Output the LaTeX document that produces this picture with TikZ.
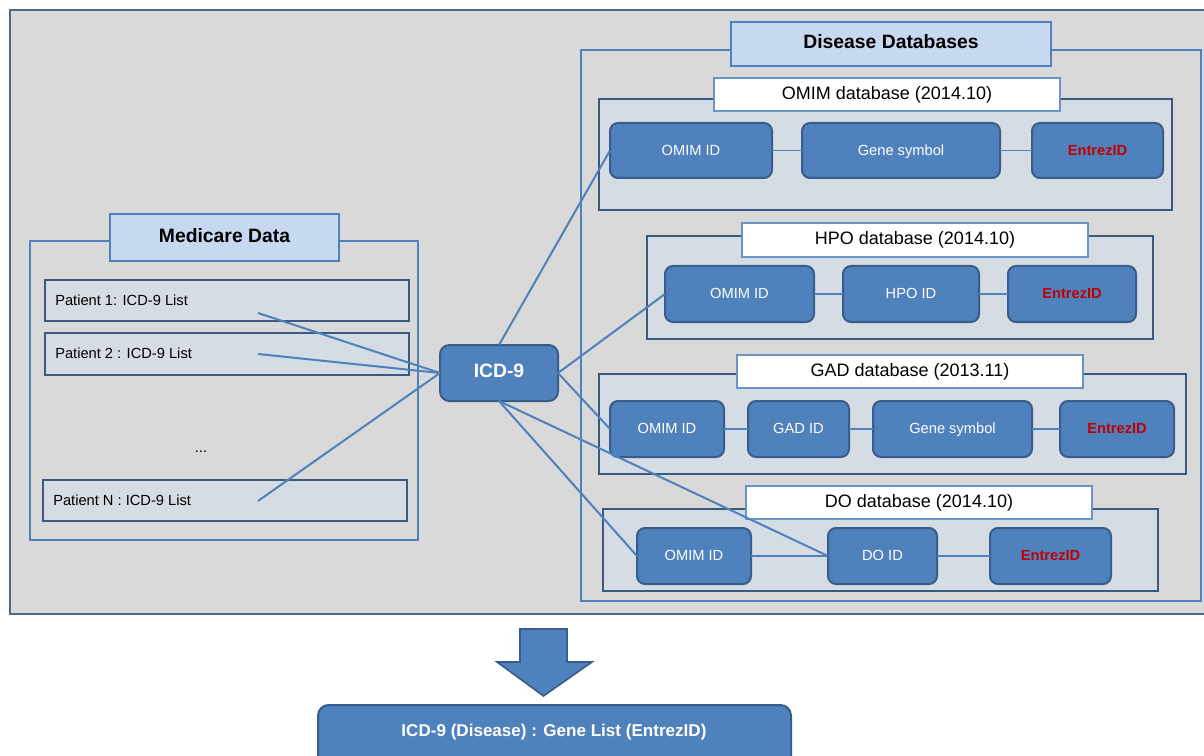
\documentclass[tikz,border=0pt]{standalone}
\usepackage{fontspec}
\setmainfont{Liberation Sans}
\definecolor{bggray}{HTML}{D9D9D9}
\definecolor{framecol}{HTML}{4A6A8E}
\definecolor{lblue}{HTML}{4F81BD}
\definecolor{dblue}{HTML}{385D8A}
\definecolor{paleblue}{HTML}{C6D9F1}
\definecolor{dbfill}{HTML}{D5DCE4}
\definecolor{dbline}{HTML}{3B5A80}
\definecolor{ered}{HTML}{C00000}
% box from corner (x1,y1) to (x2,y2) in pixel units
\newcommand\pxbox[7]{%
  \pgfmathsetmacro\bxcx{(#3+#5)/2}%
  \pgfmathsetmacro\bxcy{(#4+#6)/2}%
  \pgfmathsetmacro\bxw{(#5-#3)*0.75}%
  \pgfmathsetmacro\bxh{(#6-#4)*0.75}%
  \node[#1, minimum width=\bxw pt, minimum height=\bxh pt] (#2) at (\bxcx,\bxcy) {#7};}
\begin{document}
\begin{tikzpicture}[x=0.75pt,y=-0.75pt,
  box/.style={inner sep=0pt, outer sep=0pt, text height=0.72em, text depth=0pt},
  outerbox/.style={box, draw=framecol, fill=bggray, line width=1.8pt},
  container/.style={box, draw=lblue, line width=1.5pt},
  titlebox/.style={box, draw=lblue, fill=paleblue, line width=1.5pt, font=\fontsize{14.5}{17}\selectfont\bfseries},
  dbbox/.style={box, draw=dbline, fill=dbfill, line width=1.6pt},
  dbtitle/.style={box, draw=lblue!85, fill=white, line width=1.5pt, font=\fontsize{13.5}{16}\selectfont},
  patient/.style={box, draw=dbline, fill=dbfill, line width=1.8pt},
  ptext/.style={inner sep=0pt, anchor=west, text height=0.72em, text depth=0pt, font=\fontsize{11}{13}\selectfont},
  idbox/.style={box, draw=dblue, fill=lblue, line width=1.5pt, rounded corners=6pt, text=white, font=\fontsize{11}{13}\selectfont},
  entrez/.style={idbox, text=ered, font=\fontsize{11}{13}\selectfont\bfseries},
  icdbox/.style={box, draw=dblue, fill=lblue, line width=1.5pt, rounded corners=7pt, text=white, font=\fontsize{14.5}{17}\selectfont\bfseries},
  link/.style={draw=lblue, line width=1.5pt},
  rowlink/.style={draw=lblue, line width=0.8pt},
  blockarrow/.style={fill=lblue, draw=dblue, line width=1.2pt, line join=miter},
]
\useasboundingbox (0,0) rectangle (1204,756);
\fill[white] (0,0) rectangle (1204,756);
\clip (0,0) rectangle (1204,756);

% outer frame
\pxbox{outerbox}{frame}{10}{10}{1215}{614}{}

% Medicare data
\pxbox{container}{medi}{30}{241}{418}{540}{}
\pxbox{titlebox}{meditit}{110}{214}{339}{261}{Medicare Data}
\pxbox{patient}{p1}{45}{280}{409}{321}{}
\pxbox{patient}{p2}{45}{333}{409}{375}{}
\pxbox{patient}{pN}{43}{480}{407}{521}{}
\node[ptext] (p1t) at (55,301) {Patient 1: ICD-9 List};
\node[ptext] (p2t) at (55,354) {Patient 2 : ICD-9 List};
\node[ptext] (pNt) at (53,501) {Patient N : ICD-9 List};
\node[inner sep=0pt, font=\fontsize{11}{13}\selectfont] (dots) at (201,452) {...};
\coordinate (c1) at (258,313);
\coordinate (c2) at (258,354);
\coordinate (cN) at (258,501);

% Disease databases
\pxbox{container}{dis}{581}{50}{1201}{601}{}
\pxbox{titlebox}{distit}{731}{22}{1051}{66}{Disease Databases}

% OMIM
\pxbox{dbbox}{omimdb}{599}{99}{1172}{210}{}
\pxbox{dbtitle}{omimtit}{714}{78}{1060}{111}{OMIM database (2014.10)}
\pxbox{idbox}{o1}{610}{123}{772}{178}{OMIM ID}
\pxbox{idbox}{o2}{802}{123}{1000}{178}{Gene symbol}
\pxbox{entrez}{o3}{1032}{123}{1163}{178}{EntrezID}

% HPO
\pxbox{dbbox}{hpodb}{647}{236}{1153}{339}{}
\pxbox{dbtitle}{hpotit}{742}{223}{1088}{257}{HPO database (2014.10)}
\pxbox{idbox}{h1}{665}{266}{814}{322}{OMIM ID}
\pxbox{idbox}{h2}{843}{266}{979}{322}{HPO ID}
\pxbox{entrez}{h3}{1008}{266}{1136}{322}{EntrezID}

% GAD
\pxbox{dbbox}{gaddb}{599}{374}{1186}{474}{}
\pxbox{dbtitle}{gadtit}{737}{355}{1083}{388}{GAD database (2013.11)}
\pxbox{idbox}{g1}{610}{401}{724}{457}{OMIM ID}
\pxbox{idbox}{g2}{748}{401}{849}{457}{GAD ID}
\pxbox{idbox}{g3}{873}{401}{1032}{457}{Gene symbol}
\pxbox{entrez}{g4}{1060}{401}{1174}{457}{EntrezID}

% DO
\pxbox{dbbox}{dodb}{603}{509}{1158}{591}{}
\pxbox{dbtitle}{dotit}{746}{486}{1092}{519}{DO database (2014.10)}
\pxbox{idbox}{d1}{637}{528}{751}{584}{OMIM ID}
\pxbox{idbox}{d2}{828}{528}{937}{584}{DO ID}
\pxbox{entrez}{d3}{990}{528}{1111}{584}{EntrezID}

% row links
\draw[rowlink] (o1.east) -- (o2.west);
\draw[rowlink] (o2.east) -- (o3.west);
\draw[rowlink] (h1.east) -- (h2.west);
\draw[rowlink] (h2.east) -- (h3.west);
\draw[rowlink] (g1.east) -- (g2.west);
\draw[rowlink] (g2.east) -- (g3.west);
\draw[rowlink] (g3.east) -- (g4.west);
\draw[rowlink] (d1.east) -- (d2.west);
\draw[rowlink] (d2.east) -- (d3.west);

% ICD-9
\pxbox{icdbox}{icd}{440}{345}{558}{401}{ICD-9}

% connectors
\draw[link] (c1) -- (icd.west);
\draw[link] (c2) -- (icd.west);
\draw[link] (cN) -- (icd.west);
\draw[link] (icd.north) -- (o1.west);
\draw[link] (icd.east) -- (h1.west);
\draw[link] (icd.east) -- (g1.west);
\draw[link] (icd.south) -- (d1.west);
\draw[link] (icd.south) -- (d2.west);

% block arrow and result
\draw[blockarrow] (520,629) -- (567,629) -- (567,662) -- (592,662) -- (543.5,696) -- (497,662) -- (520,662) -- cycle;
\pxbox{icdbox, rounded corners=8pt}{res}{318}{705}{791}{780}{}
\node[inner sep=0pt, text height=0.72em, text depth=0pt, text=white, font=\fontsize{12.8}{15}\selectfont\bfseries] (restext) at (554,732) {ICD-9 (Disease) : Gene List (EntrezID)};
\end{tikzpicture}
\end{document}
